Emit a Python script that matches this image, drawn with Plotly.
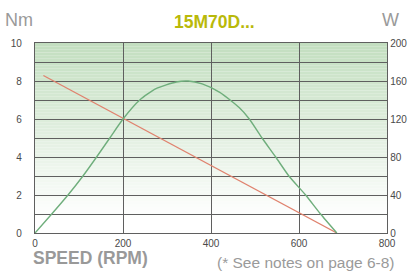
import plotly.graph_objects as go

# Data
speed_torque = [19, 686]
torque_nm = [8.29, 0.0]

speed_power = [0, 38, 75, 109, 140, 170, 200, 238, 275, 321, 348, 380, 420, 464, 487, 516, 547, 577, 615, 649, 686]
power_w = [0, 20, 40, 60, 80, 100, 120, 140, 152, 159, 160, 157, 148, 132, 120, 100, 80, 60, 40, 20, 0]

x_ticks = [0, 200, 400, 600, 800]
y_ticks = [0, 2, 4, 6, 8, 10]
y2_ticks = [0, 40, 80, 120, 160, 200]

fig = go.Figure()

fig.add_trace(go.Scatter(x=speed_torque, y=torque_nm, mode="lines",
                         line=dict(color="#e0826e", width=1.3), yaxis="y", showlegend=False))
fig.add_trace(go.Scatter(x=speed_power, y=power_w, mode="lines",
                         line=dict(color="#6fae7c", width=1.4, shape="spline", smoothing=0.6),
                         yaxis="y2", showlegend=False))

# gradient background bands
n = 60
top = (194, 222, 191)
shapes = []
for i in range(n):
    y0 = i / n
    y1 = (i + 1) / n
    t = max(0.0, (y0 + 0.5 / n - 0.08) / 0.92)
    r = round(255 + (top[0] - 255) * t)
    g = round(255 + (top[1] - 255) * t)
    b = round(255 + (top[2] - 255) * t)
    shapes.append(dict(type="rect", xref="paper", yref="paper", x0=0, x1=1, y0=y0, y1=y1,
                       fillcolor=f"rgb({r},{g},{b})", line=dict(width=0), layer="below"))

FONT = "Liberation Sans, Arial, sans-serif"
tick_font = dict(family=FONT, size=10, color="#4a4a4a")
grid_col = "#5f5f5f"

fig.update_layout(
    width=414, height=275,
    margin=dict(l=35, r=27, t=43, b=42, autoexpand=False),
    paper_bgcolor="white", plot_bgcolor="white",
    shapes=shapes,
    xaxis=dict(range=[0, 800], tickvals=x_ticks, ticks="", tickfont=tick_font, automargin=False,
               ticklabelstandoff=1,
               showgrid=True, gridcolor=grid_col, gridwidth=1.4, zeroline=False,
               showline=True, linecolor=grid_col, linewidth=1.4, mirror=True, fixedrange=True),
    yaxis=dict(range=[0, 10], tickvals=y_ticks, ticks="", tickfont=tick_font, automargin=False,
               ticklabelstandoff=10,
               showgrid=True, gridcolor=grid_col, gridwidth=1.4, zeroline=False,
               minor=dict(dtick=1, showgrid=True, gridcolor=grid_col, gridwidth=1.4),
               showline=True, linecolor=grid_col, linewidth=1.4, fixedrange=True),
    yaxis2=dict(range=[0, 200], tickvals=y2_ticks, ticks="", tickfont=tick_font, automargin=False,
                ticklabelstandoff=0,
                overlaying="y", side="right", showgrid=False, zeroline=False,
                showline=True, linecolor=grid_col, linewidth=1.4, fixedrange=True),
    annotations=[
        dict(text="<b>15M70D...</b>", xref="paper", yref="paper", x=0.511, y=1.108,
             xanchor="center", yanchor="middle", showarrow=False,
             font=dict(family=FONT, size=17.5, color="#b9b90a")),
        dict(text="Nm", xref="paper", yref="paper", x=-0.09, y=1.121, xanchor="left", yanchor="middle",
             showarrow=False, font=dict(family=FONT, size=18, color="#9a9a9a")),
        dict(text="W", xref="paper", yref="paper", x=1.011, y=1.121, xanchor="center", yanchor="middle",
             showarrow=False, font=dict(family=FONT, size=18, color="#9a9a9a")),
        dict(text="<b>SPEED (RPM)</b>", xref="paper", yref="paper", x=-0.012, y=-0.129,
             xanchor="left", yanchor="middle",
             showarrow=False, font=dict(family=FONT, size=17.5, color="#999999")),
        dict(text="(* See notes on page 6-8)", xref="paper", yref="paper", x=1.028, y=-0.155,
             xanchor="right", yanchor="middle",
             showarrow=False, font=dict(family=FONT, size=15.5, color="#9a9a9a")),
    ],
)

fig.write_html("out.html", config={"displayModeBar": False},
               post_script="document.body.style.margin='0px';document.body.style.overflow='hidden';")
